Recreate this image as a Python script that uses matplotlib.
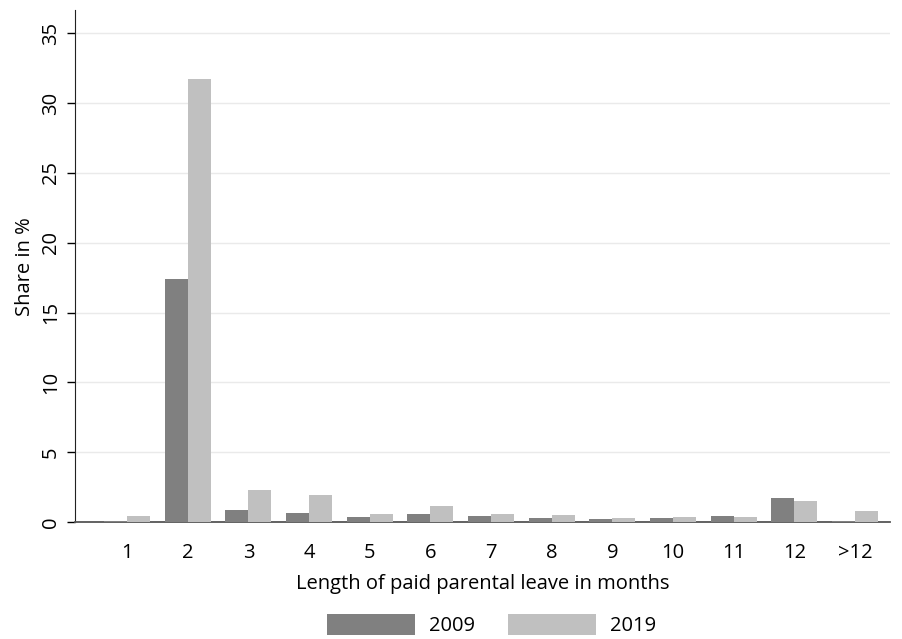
import matplotlib
matplotlib.use("Agg")
import matplotlib.pyplot as plt
from matplotlib.patches import Patch
import numpy as np

plt.rcParams['font.family'] = ['Open Sans', 'DejaVu Sans']

categories = ["1", "2", "3", "4", "5", "6", "7", "8", "9", "10", "11", "12", ">12"]
share_2009 = [0.1, 17.4, 0.86, 0.64, 0.36, 0.55, 0.43, 0.26, 0.19, 0.29, 0.43, 1.7, 0.05]
share_2019 = [0.43, 31.7, 2.3, 1.93, 0.55, 1.15, 0.6, 0.52, 0.26, 0.33, 0.36, 1.5, 0.79]
yticks = [0, 5, 10, 15, 20, 25, 30, 35]

c09 = "#808080"
c19 = "#c0c0c0"
fs = 14.5

fig = plt.figure(figsize=(9.02, 6.39), dpi=100)
ax = fig.add_axes([0.083, 0.183, 0.904, 0.801])

x = np.arange(1, len(categories) + 1)
w = 0.38
ax.bar(x - w / 2, share_2009, width=w, color=c09, zorder=3)
ax.bar(x + w / 2, share_2019, width=w, color=c19, zorder=3)

ax.set_xlim(0.14, 13.58)
ax.set_ylim(0, 36.65)
ax.set_yticks(yticks)
ax.set_yticklabels([str(t) for t in yticks], rotation=90, va='center', fontsize=fs)
ax.set_xticks(x)
ax.set_xticklabels(categories, fontsize=fs)
ax.tick_params(axis='x', length=0, pad=15)
ax.tick_params(axis='y', length=6, direction='out', width=1, pad=4)
for t in yticks[1:]:
    ax.axhline(t, color="#eaeaea", lw=1, zorder=1)
ax.spines['top'].set_visible(False)
ax.spines['right'].set_visible(False)
ax.spines['left'].set_color('#222222')
ax.spines['bottom'].set_color('#555555')
ax.spines['bottom'].set_linewidth(1.3)
ax.set_ylabel("Share in %", fontsize=fs, labelpad=4)
ax.set_xlabel("Length of paid parental leave in months", fontsize=fs, labelpad=8)

handles = [Patch(facecolor=c09, label="2009"), Patch(facecolor=c19, label="2019")]
fig.legend(handles=handles, loc='lower center', bbox_to_anchor=(0.545, -0.024), ncol=2,
           frameon=False, fontsize=fs, handlelength=4.4, handleheight=1.2,
           columnspacing=1.6, handletextpad=0.7)

fig.savefig("out.png", dpi=100)
